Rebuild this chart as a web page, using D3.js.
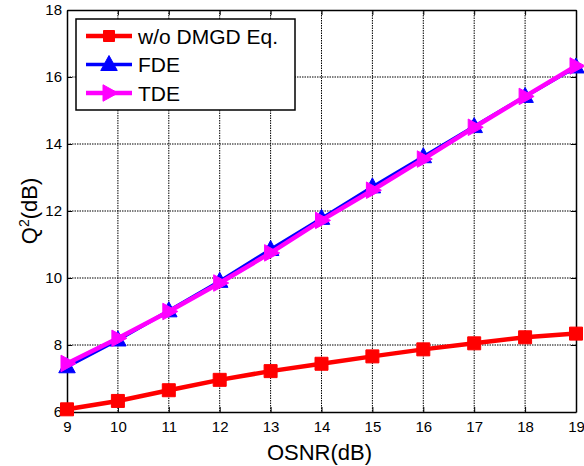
<!DOCTYPE html>
<html lang="en">
<head>
<meta charset="utf-8">
<title>Q2 vs OSNR</title>
<script src="https://cdn.jsdelivr.net/npm/d3@7/dist/d3.min.js"></script>
<style>
  body { margin: 0; background: #fff; }
  svg { font-family: "Liberation Sans", Arial, sans-serif; }
</style>
</head>
<body>
<svg width="584" height="466"></svg>
<script>
// data
var osnr = [9, 10, 11, 12, 13, 14, 15, 16, 17, 18, 19];
var noEq = [6.08, 6.33, 6.65, 6.96, 7.22, 7.44, 7.66, 7.87, 8.05, 8.23, 8.34];
var fde  = [7.35, 8.15, 9.02, 9.9, 10.85, 11.78, 12.72, 13.62, 14.52, 15.42, 16.3];
var tde  = [7.45, 8.2, 9.0, 9.85, 10.75, 11.72, 12.62, 13.55, 14.5, 15.42, 16.33];
var yTicks = [6, 8, 10, 12, 14, 16, 18];
var names = ["w/o DMGD Eq.", "FDE", "TDE"];

var svg = d3.select("svg"),
    margin = {top: 10, right: 8, bottom: 54, left: 67},
    width = 584 - margin.left - margin.right,
    height = 466 - margin.top - margin.bottom,
    g = svg.append("g").attr("transform", "translate(" + margin.left + "," + margin.top + ")");

var x = d3.scaleLinear().domain([9, 19]).range([0, width]);
var y = d3.scaleLinear().domain([6, 18]).range([height, 0]);

// grid (dotted)
g.append("g").selectAll("line").data(osnr.slice(1, -1)).enter().append("line")
    .attr("x1", d => x(d)).attr("x2", d => x(d))
    .attr("y1", 0).attr("y2", height)
    .attr("stroke", "#000").attr("stroke-width", 1).attr("stroke-dasharray", "1.5,1");
g.append("g").selectAll("line").data(yTicks.slice(1, -1)).enter().append("line")
    .attr("x1", 0).attr("x2", width)
    .attr("y1", d => y(d)).attr("y2", d => y(d))
    .attr("stroke", "#000").attr("stroke-width", 1).attr("stroke-dasharray", "1.5,1");

// axes, ticks inward
var xAxis = g.append("g").attr("transform", "translate(0," + height + ")")
    .call(d3.axisBottom(x).tickValues(osnr).tickSizeInner(-5).tickSizeOuter(0).tickPadding(9));
var xAxisTop = g.append("g")
    .call(d3.axisTop(x).tickValues(osnr).tickSizeInner(-5).tickSizeOuter(0).tickFormat(""));
var yAxis = g.append("g")
    .call(d3.axisLeft(y).tickValues(yTicks).tickSizeInner(-5).tickSizeOuter(0).tickPadding(5));
var yAxisR = g.append("g").attr("transform", "translate(" + width + ",0)")
    .call(d3.axisRight(y).tickValues(yTicks).tickSizeInner(-5).tickSizeOuter(0).tickFormat(""));
[xAxis, xAxisTop, yAxis, yAxisR].forEach(function(a) {
    a.attr("font-size", 15).attr("font-family", "'Liberation Sans', Arial, sans-serif");
    a.select(".domain").attr("stroke", "#000").attr("stroke-width", 1.5);
    a.selectAll(".tick line").attr("stroke", "#000");
    a.selectAll("text").attr("fill", "#000");
});

// series
var series = [
    {name: names[0], vals: noEq, color: "#ff0000", width: 4.5, marker: "square"},
    {name: names[1], vals: fde, color: "#0000ff", width: 3.5, marker: "up"},
    {name: names[2], vals: tde, color: "#ff00ff", width: 4.5, marker: "right"}
];

function markerPath(type, s) {
    if (type === "square") return "M" + (-s) + "," + (-s) + "h" + 2 * s + "v" + 2 * s + "h" + (-2 * s) + "Z";
    if (type === "up") return "M0," + (-s * 1.2) + "L" + s * 1.1 + "," + s * 0.8 + "L" + (-s * 1.1) + "," + s * 0.8 + "Z";
    return "M" + s * 1.2 + ",0L" + (-s * 0.8) + "," + (-s * 1.1) + "L" + (-s * 0.8) + "," + s * 1.1 + "Z";
}

var line = d3.line().x((d, i) => x(osnr[i])).y(d => y(d));

series.forEach(function(s) {
    g.append("path").datum(s.vals)
        .attr("fill", "none").attr("stroke", s.color)
        .attr("stroke-width", s.width).attr("d", line);
    g.append("g").selectAll("path").data(s.vals).enter().append("path")
        .attr("transform", (d, i) => "translate(" + x(osnr[i]) + "," + y(d) + ")")
        .attr("d", markerPath(s.marker, s.marker === "square" ? 6.5 : 7.5))
        .attr("fill", s.color).attr("stroke", s.color).attr("stroke-width", 1);
});

// legend
var lg = g.append("g").attr("transform", "translate(9,9)");
lg.append("rect").attr("width", 219).attr("height", 91)
    .attr("fill", "#fff").attr("stroke", "#000").attr("stroke-width", 1.5);
var item = lg.selectAll(".item").data(series).enter().append("g")
    .attr("transform", (d, i) => "translate(0," + (17 + i * 28.5) + ")");
item.append("line").attr("x1", 10).attr("x2", 56)
    .attr("stroke", d => d.color).attr("stroke-width", d => d.width);
item.append("path").attr("transform", "translate(33,0)")
    .attr("d", d => markerPath(d.marker, d.marker === "square" ? 5.5 : 7.5))
    .attr("fill", d => d.color).attr("stroke", d => d.color);
item.append("text").attr("x", 62).attr("dy", "0.36em")
    .attr("font-size", 21).attr("fill", "#000").text(d => d.name);

// axis labels
svg.append("text").attr("x", margin.left + width / 2 - 2).attr("y", 460)
    .attr("text-anchor", "middle").attr("font-size", 22).text("OSNR(dB)");
var yl = svg.append("text").attr("transform", "translate(37," + (margin.top + height / 2) + ") rotate(-90)")
    .attr("text-anchor", "middle").attr("font-size", 22);
yl.append("tspan").text("Q");
yl.append("tspan").attr("font-size", 14).attr("dy", -8).text("2");
yl.append("tspan").attr("dy", 8).text("(dB)");
</script>
</body>
</html>
